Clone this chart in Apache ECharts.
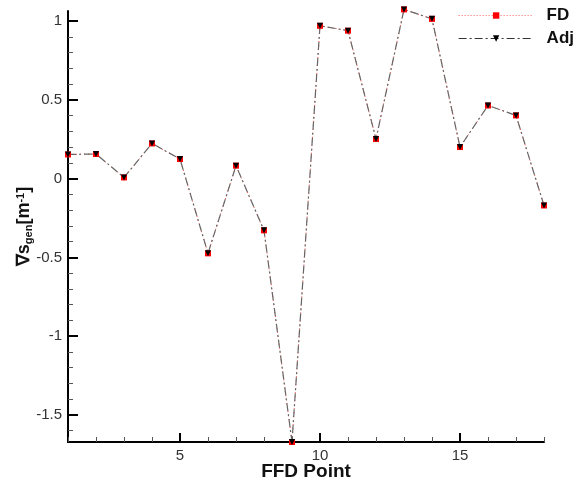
<!DOCTYPE html>
<html>
<head>
<meta charset="utf-8">
<script src="https://cdn.jsdelivr.net/npm/echarts@6/dist/echarts.min.js"></script>
<style>
html,body{margin:0;padding:0;background:#fff;}
#chart{width:578px;height:486px;}
</style>
</head>
<body>
<div id="chart"></div>
<script>
// ---- data ----
var points = [1,2,3,4,5,6,7,8,9,10,11,12,13,14,15,16,17,18];
var fdValues  = [0.154,0.157,0.008,0.224,0.125,-0.474,0.083,-0.328,-1.672,0.971,0.94,0.252,1.075,1.015,0.201,0.465,0.402,-0.17];
var adjValues = [0.154,0.157,0.008,0.224,0.125,-0.474,0.083,-0.328,-1.672,0.971,0.94,0.252,1.075,1.015,0.201,0.465,0.402,-0.17];
var xRange = [1, 18];
var yRange = [-1.672, 1.065];
var xMajorTickRange = [5, 15];   var xMajorStep = 5;
var xMinorStep = 1;
var yMajorTickRange = [-1.5, 1]; var yMajorStep = 0.5;
var yMinorTickRange = [-1.6, 1]; var yMinorStep = 0.1;

// ---- layout ----
var W = 578, H = 486;
var G = {left:68, right:34, top:11, bottom:44};
var plotW = W - G.left - G.right, plotH = H - G.top - G.bottom;
function xPix(v){ return G.left + (v - xRange[0]) / (xRange[1] - xRange[0]) * plotW; }
function yPix(v){ return G.top + (yRange[1] - v) / (yRange[1] - yRange[0]) * plotH; }

function pairs(xs, ys){ return xs.map(function(x,i){ return [x, ys[i]]; }); }

var font = 'Liberation Sans, Arial, Helvetica, sans-serif';
var hiddenAxis = function(gi){ return {type:'value', gridIndex:gi, show:false, min:0, max:1}; };

var chart = echarts.init(document.getElementById('chart'), null, {renderer:'canvas'});
chart.setOption({
  backgroundColor:'#fff',
  animation:false,
  grid:[
    {left:G.left, right:G.right, top:G.top, bottom:G.bottom},
    {left:xPix(xMajorTickRange[0]), right:W - xPix(xMajorTickRange[1]), top:G.top, bottom:G.bottom},
    {left:G.left, right:G.right, top:yPix(yMinorTickRange[1]), bottom:H - yPix(yMinorTickRange[0])},
    {left:G.left, right:G.right, top:yPix(yMajorTickRange[1]), bottom:H - yPix(yMajorTickRange[0])}
  ],
  legend:{
    orient:'vertical', right:4, top:7, padding:0,
    itemWidth:75, itemHeight:8, itemGap:6,
    textStyle:{fontFamily:font,fontWeight:'bold',fontSize:17,color:'#111',padding:[0,0,0,8]},
    data:[
      {name:'FD', itemStyle:{color:'#ff0000'}, lineStyle:{color:'#ff6060',width:1,type:[1,2]}},
      {name:'Adj', itemStyle:{color:'#000'}, lineStyle:{color:'#333',width:1.2,type:[8,3,2,3]}}
    ]
  },
  xAxis:[{
    type:'value', gridIndex:0, min:xRange[0], max:xRange[1], interval:xMinorStep, position:'bottom',
    axisLine:{show:true,onZero:false,lineStyle:{color:'#000',width:2}},
    axisTick:{show:true,inside:true,length:5,lineStyle:{color:'#555',width:1}},
    axisLabel:{show:false},
    splitLine:{show:false},
    name:'FFD Point', nameLocation:'middle', nameGap:20,
    nameTextStyle:{fontFamily:font,fontWeight:'bold',fontSize:19,color:'#111'}
  },{
    type:'value', gridIndex:1, min:xMajorTickRange[0], max:xMajorTickRange[1], interval:xMajorStep, position:'bottom',
    axisLine:{show:false,onZero:false},
    axisTick:{show:true,inside:true,length:9,lineStyle:{color:'#000',width:2}},
    axisLabel:{show:true,margin:6,fontFamily:font,fontSize:15,color:'#333'},
    splitLine:{show:false}
  },
  hiddenAxis(2), hiddenAxis(3)],
  yAxis:[{
    type:'value', gridIndex:0, min:yRange[0], max:yRange[1], position:'left',
    axisLine:{show:true,onZero:false,lineStyle:{color:'#000',width:2}},
    axisTick:{show:false},
    axisLabel:{show:false},
    splitLine:{show:false},
    name:'{a|∇s}{sub|gen}{a|[m}{sup|-1}{a|]}', nameLocation:'middle', nameGap:34, nameRotate:90,
    nameTextStyle:{
      fontFamily:font,fontWeight:'bold',fontSize:18,color:'#111',
      rich:{
        a:{fontFamily:font,fontWeight:'bold',fontSize:18,color:'#111'},
        sub:{fontFamily:font,fontWeight:'bold',fontSize:11,color:'#111',verticalAlign:'bottom',padding:[8,0,0,0]},
        sup:{fontFamily:font,fontWeight:'bold',fontSize:11,color:'#111',verticalAlign:'top',padding:[0,0,8,0]}
      }
    }
  },
  hiddenAxis(1),
  {
    type:'value', gridIndex:2, min:yMinorTickRange[0], max:yMinorTickRange[1], interval:yMinorStep, position:'left',
    axisLine:{show:false,onZero:false},
    axisTick:{show:true,inside:true,length:5,lineStyle:{color:'#555',width:1}},
    axisLabel:{show:false}, splitLine:{show:false}
  },{
    type:'value', gridIndex:3, min:yMajorTickRange[0], max:yMajorTickRange[1], interval:yMajorStep, position:'left',
    axisLine:{show:false,onZero:false},
    axisTick:{show:true,inside:true,length:10,lineStyle:{color:'#000',width:2}},
    axisLabel:{show:true,margin:6,fontFamily:font,fontSize:15,color:'#333'},
    splitLine:{show:false}
  }],
  series:[{
    name:'FD', type:'line', xAxisIndex:0, yAxisIndex:0, clip:false,
    data:pairs(points, fdValues),
    symbol:'rect', symbolSize:6,
    itemStyle:{color:'#ff0000'},
    lineStyle:{color:'#ff4040',width:1,type:[1,3]}
  },{
    name:'Adj', type:'line', xAxisIndex:0, yAxisIndex:0, clip:false,
    data:pairs(points, adjValues),
    symbol:'triangle', symbolRotate:180, symbolSize:6,
    itemStyle:{color:'#000'},
    lineStyle:{color:'#666',width:1.2,type:[8,3,2,3]}
  }]
});
</script>
</body>
</html>
